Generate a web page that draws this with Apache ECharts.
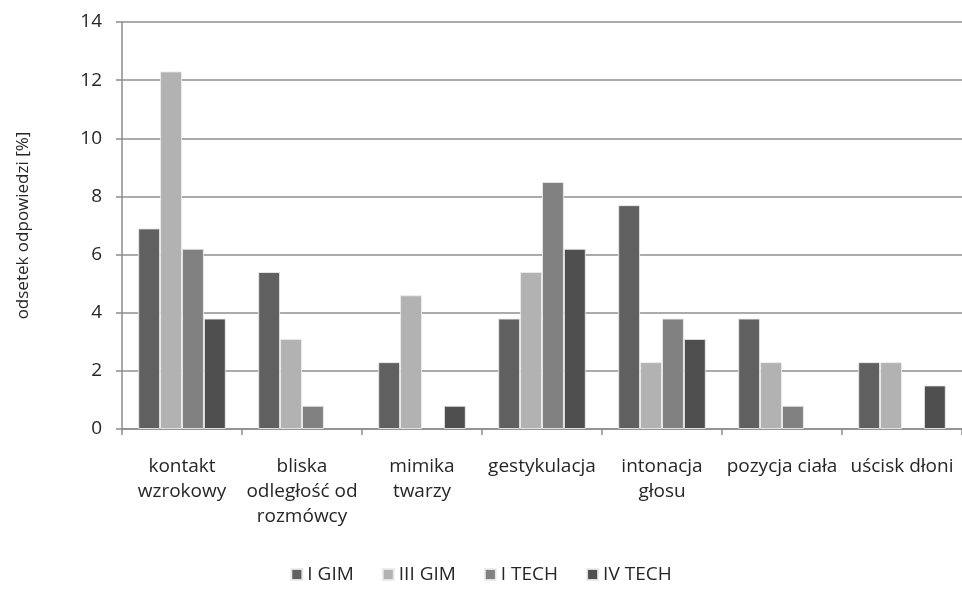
<!DOCTYPE html>
<html><head><meta charset="utf-8">
<script src="https://cdn.jsdelivr.net/npm/echarts@6/dist/echarts.min.js"></script>
<style>html,body{margin:0;padding:0;background:#fff}#c{width:962px;height:591px}</style>
</head><body><div id="c"></div>
<script>
const categories = ['kontakt\nwzrokowy', 'bliska\nodległość od\nrozmówcy', 'mimika\ntwarzy', 'gestykulacja', 'intonacja\ngłosu', 'pozycja ciała', 'uścisk dłoni'];
const seriesNames = ['I GIM', 'III GIM', 'I TECH', 'IV TECH'];
const iGim = [6.9, 5.4, 2.3, 3.8, 7.7, 3.8, 2.3];
const iiiGim = [12.3, 3.1, 4.6, 5.4, 2.3, 2.3, 2.3];
const iTech = [6.2, 0.8, 0, 8.5, 3.8, 0.8, 0];
const ivTech = [3.8, 0, 0.8, 6.2, 3.1, 0, 1.5];
const yTicks = [0, 2, 4, 6, 8, 10, 12, 14];
const colors = ['#606060', '#b2b2b2', '#808180', '#4f4f4f'];
const values = [iGim, iiiGim, iTech, ivTech];
const font = 'Open Sans';
const chart = echarts.init(document.getElementById('c'));
chart.setOption({
  animation: false,
  color: colors,
  textStyle: {fontFamily: font},
  grid: {left: 122, right: 0, top: 22, bottom: 162, containLabel: false},
  legend: {
    bottom: 2, left: 'center', itemWidth: 11, itemHeight: 11, itemGap: 28, itemTextGap: 4,
    icon: 'rect',
    textStyle: {fontSize: 19, color: '#262626', fontFamily: font},
    data: seriesNames
  },
  xAxis: {
    type: 'category', data: categories,
    axisLine: {lineStyle: {color: '#8c8c8c', width: 1.5}},
    axisTick: {show: true, length: 6, lineStyle: {color: '#8c8c8c', width: 1.5}},
    axisLabel: {fontSize: 19, color: '#262626', lineHeight: 25, margin: 25, interval: 0, fontFamily: font}
  },
  yAxis: {
    type: 'value', min: yTicks[0], max: yTicks[yTicks.length - 1], interval: 2,
    name: 'odsetek odpowiedzi [%]', nameLocation: 'middle', nameGap: 90,
    nameTextStyle: {fontSize: 17, color: '#262626', fontFamily: font},
    axisLine: {show: true, lineStyle: {color: '#8c8c8c', width: 1.5}},
    axisTick: {show: true, length: 6, lineStyle: {color: '#8c8c8c', width: 1.5}},
    axisLabel: {fontSize: 19, color: '#262626', margin: 20, fontFamily: font},
    splitLine: {lineStyle: {color: '#8f8f8f', width: 1.5}}
  },
  series: seriesNames.map((n, i) => ({
    name: n, type: 'bar',
    data: values[i].map(v => v === 0 ? {value: v, itemStyle: {borderWidth: 0}} : v),
    barGap: '0%', barCategoryGap: '27%',
    itemStyle: {color: colors[i], borderColor: 'rgba(235,235,235,0.9)', borderWidth: 1}
  }))
});
</script></body></html>
